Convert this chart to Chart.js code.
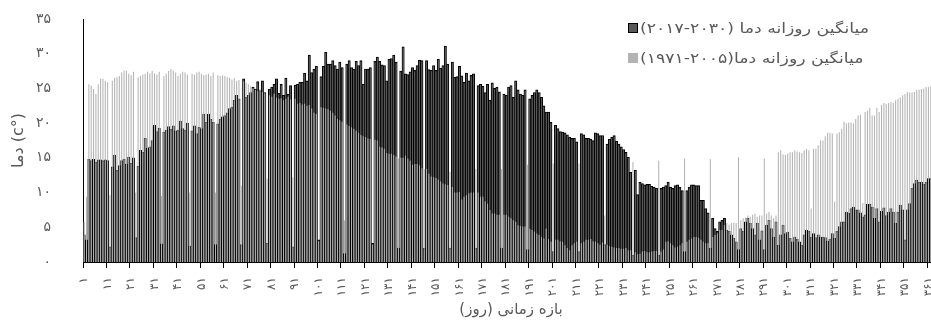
<!DOCTYPE html>
<html lang="fa" dir="ltr">
<head>
<meta charset="utf-8">
<title>میانگین روزانه دما</title>
<script src="https://cdn.jsdelivr.net/npm/chart.js@4.4.1/dist/chart.umd.min.js"></script>
<style>
  html, body { margin: 0; padding: 0; background: #ffffff; overflow: hidden; }
  #wrap { position: absolute; left: 0; top: 0; width: 939px; height: 324px; }
</style>
</head>
<body>
<div id="wrap"><canvas id="chart" width="939" height="324"></canvas></div>
<script>
const FONT = '"DejaVu Sans", sans-serif';
const TEXT_COLOR = '#595959';

const faDigits = ['۰', '۱', '۲', '۳', '۴', '۵', '۶', '۷', '۸', '۹'];
const toFa = n => String(n).replace(/\d/g, d => faDigits[d]);

// day of year, 1..365
const days = Array.from({ length: 365 }, (_, i) => toFa(i + 1));

const yTickLabels = ['۰', '۵', '۱۰', '۱۵', '۲۰', '۲۵', '۳۰', '۳۵'];

const seriesLabels = [
  'میانگین روزانه دما (\u200E۲۰۱۷-۲۰۳۰)',
  'میانگین روزانه دما(\u200E۱۹۷۱-۲۰۰۵)'
];

// daily mean temperature, 2017-2030 (°C)
const temp2017 = [
  3.9, 3.2, 14.8, 14.6, 14.8, 14.4, 14.7, 14.7, 14.6, 14.7,
  14.6, 2.2, 13.7, 15.4, 13.2, 13.9, 14.6, 14.8, 14.1, 15.1,
  14.2, 15.0, 3.5, 13.8, 16.1, 15.8, 17.8, 16.4, 16.6, 17.5,
  19.7, 18.8, 19.3, 2.6, 18.7, 19.0, 19.5, 19.1, 19.6, 18.9,
  19.0, 20.3, 19.2, 19.0, 20.0, 2.3, 18.9, 19.6, 18.5, 19.4,
  19.2, 21.3, 20.1, 21.3, 20.6, 20.1, 2.5, 19.9, 20.6, 20.9,
  21.1, 21.5, 22.1, 22.3, 23.3, 24.0, 23.5, 2.5, 26.4, 23.7,
  24.0, 24.4, 25.2, 24.9, 26.0, 24.7, 26.1, 24.4, 2.7, 24.9,
  25.2, 25.6, 26.4, 24.3, 25.6, 24.0, 26.5, 24.2, 25.4, 2.2,
  25.5, 25.6, 25.9, 25.9, 27.2, 26.1, 29.8, 27.3, 27.8, 28.2,
  3.2, 26.7, 28.2, 30.2, 28.5, 28.5, 29.0, 28.3, 27.8, 28.8,
  28.0, 1.2, 28.5, 29.0, 28.0, 27.8, 28.9, 28.3, 29.0, 25.6,
  27.8, 27.8, 28.0, 2.7, 28.9, 29.5, 28.9, 28.4, 28.3, 26.1,
  29.2, 29.3, 29.8, 28.8, 2.0, 27.5, 31.0, 27.1, 27.0, 27.4,
  28.0, 27.6, 28.3, 29.1, 29.0, 2.0, 29.0, 27.7, 27.6, 28.3,
  27.6, 29.2, 27.9, 28.3, 31.1, 28.5, 2.0, 28.8, 26.6, 26.7,
  28.2, 26.8, 25.9, 27.2, 26.1, 26.9, 27.1, 2.0, 25.4, 25.6,
  25.3, 24.4, 25.6, 23.3, 25.8, 25.0, 25.2, 24.5, 2.0, 24.2,
  24.0, 25.2, 25.4, 23.7, 26.1, 24.8, 24.2, 24.0, 24.8, 1.8,
  23.5, 24.0, 24.4, 24.8, 24.4, 23.7, 22.5, 21.6, 21.6, 20.1,
  1.5, 19.7, 19.2, 18.8, 18.7, 18.6, 18.3, 18.0, 17.8, 17.8,
  17.3, 1.5, 18.5, 18.3, 17.8, 17.8, 17.7, 17.5, 18.6, 18.5,
  18.2, 18.2, 2.5, 17.0, 17.7, 18.0, 18.2, 17.4, 17.0, 16.6,
  16.2, 15.8, 15.1, 12.9, 1.0, 13.2, 9.7, 11.5, 11.3, 11.1,
  11.2, 11.2, 10.9, 10.8, 10.6, 1.0, 10.6, 10.8, 11.0, 11.5,
  10.8, 10.6, 11.0, 11.1, 10.8, 10.3, 1.5, 10.3, 10.8, 11.1,
  11.1, 11.0, 11.0, 8.9, 8.9, 7.7, 7.1, 2.0, 6.3, 4.8,
  4.4, 5.8, 6.0, 6.3, 4.6, 4.4, 3.9, 3.4, 2.9, 1.8,
  4.8, 4.4, 5.8, 6.3, 5.6, 4.8, 3.9, 5.6, 3.2, 4.5,
  1.8, 5.3, 6.0, 4.8, 3.6, 5.8, 2.4, 3.9, 5.3, 4.1,
  4.3, 3.4, 2.9, 3.6, 3.3, 2.9, 2.4, 3.9, 4.6, 4.4,
  3.6, 4.1, 3.5, 3.9, 3.6, 3.6, 3.5, 3.0, 3.3, 4.1,
  3.4, 4.4, 5.1, 5.8, 5.8, 7.2, 7.0, 7.7, 7.9, 7.5,
  7.5, 7.1, 6.5, 6.8, 8.3, 8.3, 7.9, 6.3, 7.7, 5.8,
  7.3, 7.8, 6.7, 7.2, 7.7, 7.2, 5.6, 7.2, 8.2, 7.5,
  3.2, 7.5, 8.4, 10.6, 11.3, 11.8, 11.5, 11.5, 11.2, 11.5,
  12.0, 12.0, 12.3, 12.5, 12.8
];

// daily mean temperature, 1971-2005 (°C)
const temp1971 = [
  5.8, 9.4, 25.6, 25.4, 24.9, 24.2, 25.6, 26.4, 26.4, 26.1,
  25.9, 9.6, 26.1, 26.5, 26.6, 26.8, 27.3, 27.6, 27.6, 27.1,
  26.9, 27.4, 10.0, 26.6, 26.8, 27.0, 27.1, 27.4, 27.2, 27.5,
  27.2, 27.0, 27.4, 9.5, 26.8, 27.1, 27.5, 27.8, 27.6, 27.3,
  26.8, 27.1, 27.4, 27.3, 27.0, 10.0, 27.1, 27.0, 27.3, 27.4,
  27.1, 26.9, 27.0, 27.1, 26.8, 27.3, 10.0, 26.9, 26.8, 26.9,
  26.8, 26.6, 26.5, 26.3, 26.5, 26.1, 26.2, 11.0, 26.0, 25.8,
  25.6, 25.3, 25.0, 24.8, 24.6, 24.9, 24.5, 24.3, 12.0, 24.0,
  23.8, 24.2, 23.7, 23.5, 23.6, 23.3, 23.5, 23.8, 23.4, 12.2,
  23.5, 22.8, 22.9, 22.7, 22.8, 22.5, 22.6, 22.1, 21.5, 21.3,
  3.0, 22.3, 22.2, 22.1, 22.0, 21.8, 21.5, 21.1, 20.6, 20.4,
  20.2, 6.0, 19.8, 19.6, 19.4, 19.2, 18.9, 18.6, 18.3, 18.1,
  18.0, 17.8, 17.7, 2.5, 17.6, 17.5, 16.6, 16.5, 16.3, 15.7,
  15.6, 15.6, 15.4, 15.2, 14.9, 15.0, 15.0, 15.3, 14.9, 14.6,
  14.0, 14.1, 14.1, 13.9, 13.5, 13.4, 13.4, 12.7, 12.3, 12.2,
  12.1, 11.9, 11.6, 11.3, 11.2, 11.1, 13.0, 10.8, 10.0, 10.0,
  10.1, 9.0, 9.4, 9.6, 9.9, 10.0, 10.0, 13.4, 10.0, 9.4,
  9.4, 8.7, 8.4, 7.5, 7.0, 7.0, 6.8, 6.8, 13.4, 6.8,
  6.8, 6.5, 6.3, 6.0, 5.8, 5.3, 5.2, 5.1, 5.1, 14.0,
  4.8, 4.6, 4.4, 4.1, 3.9, 3.6, 3.4, 4.8, 3.3, 2.9,
  14.2, 3.2, 3.2, 3.0, 2.9, 2.4, 2.0, 1.7, 2.4, 2.7,
  2.9, 14.2, 2.7, 2.9, 3.2, 3.2, 3.3, 3.0, 2.9, 2.7,
  2.5, 2.8, 6.7, 2.5, 2.3, 2.2, 2.1, 2.0, 2.0, 1.9,
  1.9, 2.0, 1.7, 1.7, 14.4, 1.4, 1.1, 1.2, 1.5, 1.6,
  1.4, 1.4, 1.5, 1.6, 1.6, 14.6, 1.5, 1.8, 2.9, 3.0,
  2.7, 2.4, 2.1, 2.2, 2.4, 2.7, 14.9, 2.9, 3.2, 3.4,
  3.6, 3.6, 3.5, 3.2, 2.9, 2.7, 2.7, 14.8, 3.6, 3.9,
  4.1, 4.6, 4.6, 5.3, 5.6, 5.4, 5.6, 5.6, 5.6, 15.1,
  6.0, 6.3, 6.4, 6.7, 6.5, 6.8, 7.0, 6.5, 6.7, 6.7,
  14.9, 7.0, 7.2, 6.7, 6.3, 6.7, 15.8, 16.1, 15.5, 15.4,
  15.6, 15.8, 15.8, 16.1, 15.9, 15.8, 15.7, 16.1, 16.3, 16.1,
  7.7, 16.3, 16.3, 16.8, 17.5, 17.5, 18.1, 18.6, 18.6, 18.5,
  8.7, 18.5, 18.7, 19.2, 20.2, 20.0, 20.1, 20.1, 20.0, 20.6,
  21.1, 21.2, 8.5, 21.6, 21.8, 22.2, 21.1, 21.1, 22.2, 21.6,
  22.6, 22.9, 22.8, 22.9, 23.0, 22.9, 23.3, 23.5, 23.7, 24.0,
  24.2, 24.5, 24.4, 24.4, 24.5, 24.8, 24.8, 24.9, 25.0, 25.2,
  25.2, 25.3, 25.4, 25.5, 25.6
];

const seriesFill = ['#595959', '#b3b3b3'];
const seriesStroke = ['#000000', null];

// legend drawn in the upper right corner of the plot
const cornerLegend = {
  id: 'cornerLegend',
  afterDraw(chart) {
    const { ctx } = chart;
    const boxX = 628, textX = 640, rows = [28, 58], box = 10, textWidth = 229;
    ctx.save();
    ctx.font = '14px ' + FONT;
    ctx.textBaseline = 'middle';
    ctx.textAlign = 'left';
    ctx.direction = 'rtl';
    const sx = textWidth / ctx.measureText(chart.data.datasets[0].label).width;
    chart.data.datasets.forEach((ds, i) => {
      const cy = rows[i];
      ctx.fillStyle = seriesFill[i];
      ctx.fillRect(boxX, cy - box / 2, box, box);
      if (seriesStroke[i]) {
        ctx.strokeStyle = seriesStroke[i];
        ctx.lineWidth = 1;
        ctx.strokeRect(boxX + 0.5, cy - box / 2 + 0.5, box - 1, box - 1);
      }
      ctx.save();
      ctx.translate(textX, cy + 1);
      ctx.scale(sx, 1);
      ctx.fillStyle = TEXT_COLOR;
      ctx.fillText(ds.label, 0, 0);
      ctx.restore();
    });
    ctx.restore();
  }
};

new Chart(document.getElementById('chart'), {
  type: 'bar',
  data: {
    labels: days,
    datasets: [
      {
        label: seriesLabels[0],
        data: temp2017,
        backgroundColor: seriesFill[0],
        borderColor: seriesStroke[0],
        borderWidth: 1,
        barPercentage: 1,
        categoryPercentage: 1,
        grouped: false,
        order: 1
      },
      {
        label: seriesLabels[1],
        data: temp1971,
        backgroundColor: seriesFill[1],
        borderWidth: 0,
        barPercentage: 0.45,
        categoryPercentage: 1,
        grouped: false,
        order: 0
      }
    ]
  },
  options: {
    responsive: false,
    animation: false,
    devicePixelRatio: 1,
    layout: { padding: { top: 19, right: 0, bottom: 0, left: 0 } },
    plugins: { legend: { display: false }, tooltip: { enabled: false } },
    scales: {
      x: {
        offset: true,
        grid: {
          display: true,
          offset: true,
          drawOnChartArea: false,
          drawTicks: true,
          tickLength: 6,
          tickWidth: 1,
          tickColor: c => (c.index % 10 === 0 ? '#000000' : 'rgba(0,0,0,0)')
        },
        border: { display: true, color: '#000000', width: 1 },
        ticks: {
          autoSkip: false,
          minRotation: 90,
          maxRotation: 90,
          padding: 9,
          color: TEXT_COLOR,
          font: { family: FONT, size: 12 },
          callback: (v, i) => (i % 10 === 0 ? days[i] : '')
        },
        title: {
          display: true,
          text: 'بازه زمانی (روز)',
          color: TEXT_COLOR,
          font: { family: FONT, size: 15 },
          padding: { top: 0, bottom: 5 }
        },
        afterFit: s => { s.height = 62; s.paddingLeft = 0; s.paddingRight = 0; }
      },
      y: {
        min: 0,
        max: 35,
        grid: { display: false, drawTicks: false },
        border: { display: true, color: '#000000', width: 1 },
        ticks: {
          stepSize: 5,
          padding: 32,
          color: TEXT_COLOR,
          font: { family: FONT, size: 14 },
          callback: v => yTickLabels[Math.round(v / 5)]
        },
        title: {
          display: true,
          text: 'دما (c°)',
          color: TEXT_COLOR,
          font: { family: FONT, size: 16 },
          padding: { top: 9, bottom: 0 }
        },
        afterFit: s => { s.width = 83; s.paddingTop = 0; s.paddingBottom = 0; }
      }
    }
  },
  plugins: [cornerLegend]
});
</script>
</body>
</html>
